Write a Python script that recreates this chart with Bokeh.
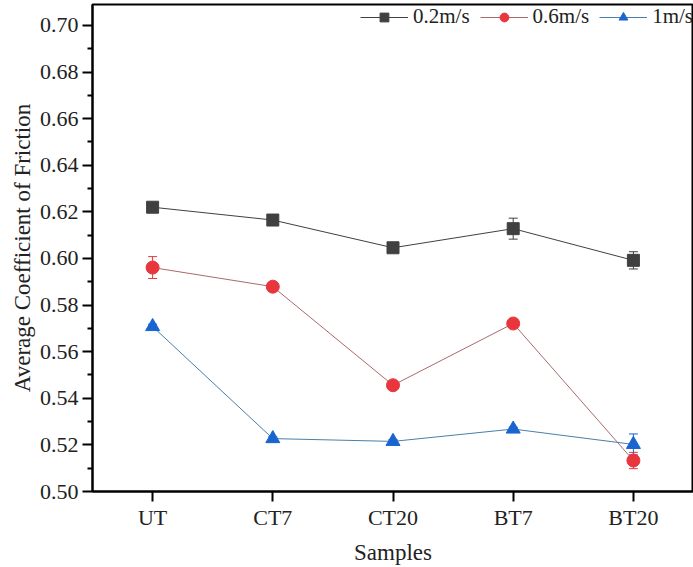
from bokeh.plotting import figure
from bokeh.models import (FactorRange, Range1d, FixedTicker, NumeralTickFormatter,
                          ColumnDataSource, Whisker, TeeHead, Legend, LegendItem)
from bokeh.embed import file_html
from bokeh.resources import INLINE

samples = ["UT", "CT7", "CT20", "BT7", "BT20"]
mu_02 = [0.622, 0.6165, 0.6046, 0.6128, 0.5992]
err_02 = [0.0008, 0.0008, 0.0008, 0.0045, 0.0037]
mu_06 = [0.5961, 0.5879, 0.5456, 0.5721, 0.5133]
err_06 = [0.0047, 0.0008, 0.0008, 0.0008, 0.0035]
mu_1 = [0.5708, 0.5227, 0.5215, 0.5268, 0.5202]
err_1 = [0.0010, 0.0008, 0.0008, 0.0008, 0.0045]
labels = ["0.2m/s", "0.6m/s", "1m/s"]
y_major = [0.50, 0.52, 0.54, 0.56, 0.58, 0.60, 0.62, 0.64, 0.66, 0.68, 0.70]
y_minor = [0.51, 0.53, 0.55, 0.57, 0.59, 0.61, 0.63, 0.65, 0.67, 0.69]

FONT = "Liberation Serif"

p = figure(width=693, height=567, x_range=FactorRange(factors=samples),
           y_range=Range1d(0.50, 0.709), output_backend="svg", toolbar_location=None,
           min_border_left=92, min_border_right=0, min_border_top=4, min_border_bottom=76)
p.grid.visible = False
p.outline_line_color = "black"
p.outline_line_width = 2
p.background_fill_color = "white"
p.border_fill_color = "white"

series = [
    (mu_02, err_02, "#404040", "#404040", "square", 12),
    (mu_06, err_06, "#e8363c", "#a86a6a", "circle", 13),
    (mu_1, err_1, "#1a64d0", "#4a7fa8", "triangle", 14),
]
items = []
for (vals, errs, mcol, lcol, mk, sz), lab in zip(series, labels):
    src = ColumnDataSource(dict(x=samples, y=vals,
                                lo=[v - e for v, e in zip(vals, errs)],
                                hi=[v + e for v, e in zip(vals, errs)]))
    ln = p.line("x", "y", source=src, line_color=lcol, line_width=1)
    w = Whisker(base="x", upper="hi", lower="lo", source=src, line_color=mcol, line_width=1,
                upper_head=TeeHead(size=9, line_color=mcol, line_width=1),
                lower_head=TeeHead(size=9, line_color=mcol, line_width=1))
    p.add_layout(w)
    sc = p.scatter("x", "y", source=src, marker=mk, size=sz, fill_color=mcol, line_color=mcol)
    items.append(LegendItem(label=lab, renderers=[ln, sc]))

legend = Legend(items=items, orientation="horizontal", location="top_right",
                label_text_font=FONT, label_text_font_size="21px", label_text_color="#222222",
                border_line_color=None, background_fill_alpha=0, glyph_width=48,
                label_standoff=5, spacing=10, margin=0, padding=6,
                label_height=22, glyph_height=22)
p.add_layout(legend)

yax = p.yaxis[0]
yax.ticker = FixedTicker(ticks=y_major, minor_ticks=y_minor)
yax.formatter = NumeralTickFormatter(format="0.00")
yax.axis_label = "Average Coefficient of Friction"
xax = p.xaxis[0]
xax.axis_label = "Samples"
for ax in (xax, yax):
    ax.axis_line_width = 2
    ax.axis_line_color = "black"
    ax.major_tick_line_width = 2
    ax.major_tick_in = 0
    ax.major_tick_out = 10
    ax.minor_tick_in = 0
    ax.minor_tick_out = 5
    ax.minor_tick_line_width = 2
    ax.major_label_text_font = FONT
    ax.major_label_text_font_size = "22px"
    ax.major_label_text_color = "#222222"
    ax.axis_label_text_font = FONT
    ax.axis_label_text_font_size = "23px"
    ax.axis_label_text_font_style = "normal"
    ax.axis_label_text_color = "#222222"
yax.major_label_standoff = 4
yax.axis_label_standoff = 2
xax.major_label_standoff = 3
xax.axis_label_standoff = 7

open("out.html", "w").write(file_html(p, INLINE))
